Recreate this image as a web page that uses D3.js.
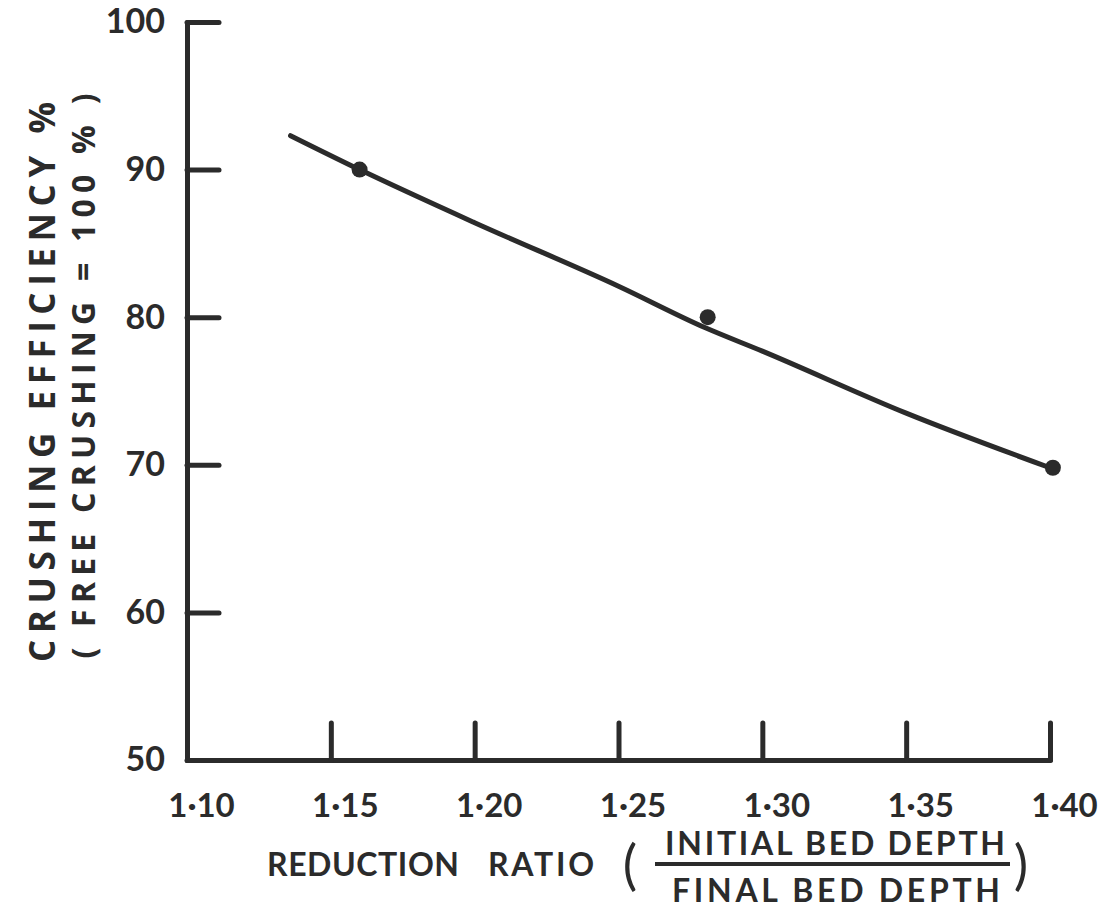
<!DOCTYPE html>
<html>
<head>
<meta charset="utf-8">
<script src="https://cdn.jsdelivr.net/npm/d3@7"></script>
<style>
  html, body { margin: 0; padding: 0; background: #fff; }
  svg { display: block; }
</style>
</head>
<body>
<svg id="chart" width="1111" height="922"></svg>
<script>
// ---- data ----
const xTicks = [1.10, 1.15, 1.20, 1.25, 1.30, 1.35, 1.40];
const xTickLabels = ["1·10", "1·15", "1·20", "1·25", "1·30", "1·35", "1·40"];
const yTicks = [50, 60, 70, 80, 90, 100];
const yTickLabels = ["50", "60", "70", "80", "90", "100"];
const pointX = [1.16, 1.281, 1.401];
const pointY = [90.0, 80.0, 69.8];
const curveX = [1.136, 1.16, 1.20, 1.25, 1.28, 1.30, 1.35, 1.40];
const curveY = [92.3, 90.0, 86.4, 82.1, 79.3, 77.7, 73.5, 69.8];
const yTitle1 = "CRUSHING  EFFICIENCY %";
const yTitle2 = "( FREE CRUSHING = 100 % )";
const xTitleA = "REDUCTION";
const xTitleB = "RATIO";
const fracTop = "INITIAL BED DEPTH";
const fracBottom = "FINAL BED DEPTH";

const ink = "#2b2b2b";
const lato = "Lato, sans-serif";
const open = "'Open Sans', sans-serif";
const svg = d3.select("#chart");
const x = d3.scaleLinear().domain([1.10, 1.40]).range([187, 1050]);
const y = d3.scaleLinear().domain([50, 100]).range([760, 22]);

function txt(sel, family, weight) {
  return sel.style("font-family", family).style("font-weight", weight).style("fill", ink);
}

// x axis
const xAxis = d3.axisBottom(x)
  .tickValues(xTicks)
  .tickFormat((d, i) => xTickLabels[i])
  .tickSizeInner(-37)
  .tickSizeOuter(0)
  .tickPadding(44);
const gx = svg.append("g").attr("transform", `translate(0,${y(50)})`).call(xAxis);
gx.select(".domain").attr("stroke", ink).attr("stroke-width", 5).attr("stroke-linecap", "round");
gx.selectAll(".tick line").attr("stroke", ink).attr("stroke-width", 5).attr("stroke-linecap", "round");
txt(gx.selectAll(".tick text"), lato, 700)
  .style("font-size", "33px").attr("dx", 14).attr("dy", 0).attr("y", 57);

// y axis
const yAxis = d3.axisLeft(y)
  .tickValues(yTicks)
  .tickFormat((d, i) => yTickLabels[i])
  .tickSizeInner(-32)
  .tickSizeOuter(0)
  .tickPadding(22);
const gy = svg.append("g").attr("transform", `translate(${x(1.10)},0)`).call(yAxis);
gy.select(".domain").attr("stroke", ink).attr("stroke-width", 5).attr("stroke-linecap", "round");
gy.selectAll(".tick line").attr("stroke", ink).attr("stroke-width", 5).attr("stroke-linecap", "round");
txt(gy.selectAll(".tick text"), lato, 700).style("font-size", "34px");

// curve
const line = d3.line().x(d => x(d[0])).y(d => y(d[1])).curve(d3.curveMonotoneX);
svg.append("path")
  .datum(curveX.map((v, i) => [v, curveY[i]]))
  .attr("d", line)
  .attr("fill", "none").attr("stroke", ink).attr("stroke-width", 5).attr("stroke-linecap", "round");

// points
svg.selectAll("circle.pt").data(pointX.map((v, i) => [v, pointY[i]])).enter()
  .append("circle").attr("class", "pt")
  .attr("cx", d => x(d[0])).attr("cy", d => y(d[1])).attr("r", 8).attr("fill", ink);

// y titles
txt(svg.append("text"), open, 700).attr("transform", "translate(55,382) rotate(-90)")
  .attr("text-anchor", "middle").style("font-size", "35px")
  .attr("textLength", 560).attr("lengthAdjust", "spacing")
  .text(yTitle1);
txt(svg.append("text"), open, 700).attr("transform", "translate(95,376) rotate(-90)")
  .attr("text-anchor", "middle").style("font-size", "32px")
  .attr("textLength", 565).attr("lengthAdjust", "spacing")
  .text(yTitle2);

// x title
txt(svg.append("text"), lato, 700).attr("x", 267).attr("y", 876).style("font-size", "32px")
  .attr("textLength", 192).attr("lengthAdjust", "spacing").text(xTitleA);
txt(svg.append("text"), lato, 700).attr("x", 488).attr("y", 876).style("font-size", "32px")
  .attr("textLength", 106).attr("lengthAdjust", "spacing").text(xTitleB);
txt(svg.append("text"), lato, 400).attr("x", 630).attr("y", 884).attr("text-anchor", "middle")
  .style("font-size", "54px").text("(");
txt(svg.append("text"), lato, 400).attr("x", 1021).attr("y", 884).attr("text-anchor", "middle")
  .style("font-size", "54px").text(")");
txt(svg.append("text"), lato, 700).attr("x", 665).attr("y", 855).style("font-size", "32px")
  .attr("textLength", 340).attr("lengthAdjust", "spacing").text(fracTop);
svg.append("line").attr("x1", 655).attr("x2", 1010).attr("y1", 864).attr("y2", 864)
  .attr("stroke", ink).attr("stroke-width", 4);
txt(svg.append("text"), lato, 700).attr("x", 672).attr("y", 902).style("font-size", "32px")
  .attr("textLength", 328).attr("lengthAdjust", "spacing").text(fracBottom);
</script>
</body>
</html>
